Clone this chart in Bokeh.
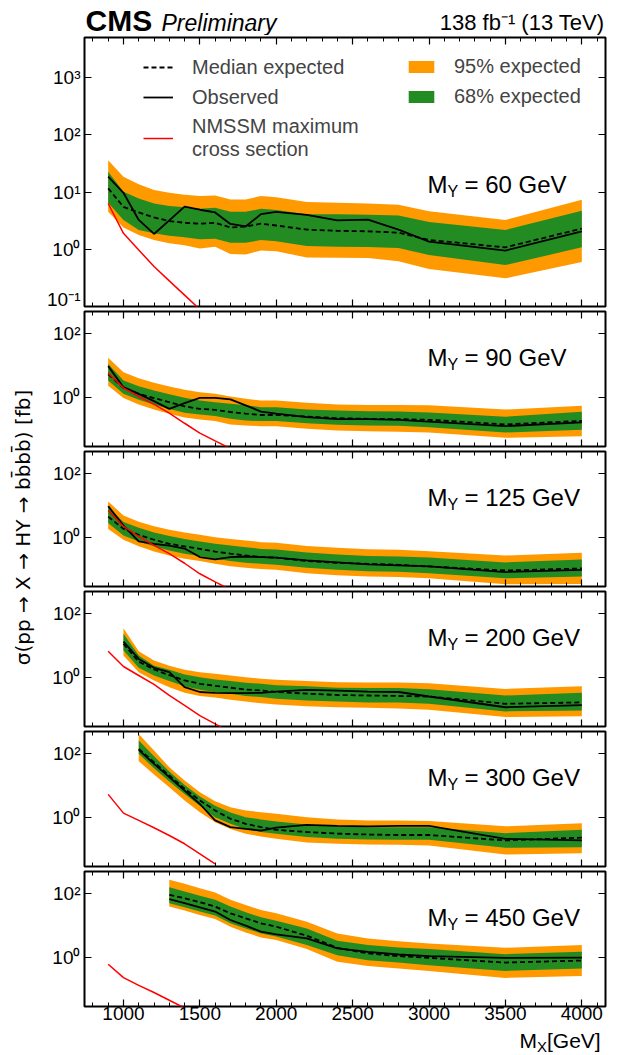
import math
from bokeh.plotting import figure
from bokeh.layouts import column, row
from bokeh.models import (Range1d, FixedTicker, LinearAxis, LogAxis, Label, Legend,
                          LegendItem, CustomJSTickFormatter, ColumnDataSource)
from bokeh.core.properties import value
from bokeh.embed import file_html
from bokeh.resources import INLINE

# ---------------- data ----------------
MX_ALL = [900, 1000, 1100, 1200, 1300, 1400, 1500, 1600, 1700, 1800, 1900, 2000,
          2200, 2400, 2600, 2800, 3000, 3500, 4000]

# M_Y = 60 GeV
mx_60 = MX_ALL
obs_60 = [18.5, 9.7, 3.25, 1.85, 3.2, 5.55, 4.9, 4.4, 2.77, 2.5, 4.1, 4.5, 4.0, 3.2, 3.3, 2.2, 1.36, 0.95, 2.06]
exp_60 = [11.6, 5.5, 4.4, 3.6, 3.1, 2.9, 2.8, 2.9, 2.4, 2.5, 2.8, 2.6, 2.2, 2.1, 2.06, 1.95, 1.45, 1.08, 2.3]
u95_60 = [36, 18.5, 13.6, 10.8, 9.7, 9.0, 8.5, 8.7, 7.4, 7.4, 8.5, 8.1, 6.7, 6.5, 6.3, 6.0, 4.6, 3.25, 7.3]
u68_60 = [22.6, 10.1, 7.7, 6.3, 5.7, 5.4, 5.1, 5.3, 4.5, 4.5, 5.1, 4.85, 4.1, 4.1, 4.0, 3.9, 3.0, 2.17, 4.7]
d68_60 = [6.5, 3.25, 2.17, 1.9, 1.73, 1.62, 1.5, 1.53, 1.3, 1.3, 1.45, 1.38, 1.14, 1.11, 1.1, 1.05, 0.79, 0.53, 1.08]
d95_60 = [4.5, 2.4, 1.78, 1.45, 1.27, 1.17, 1.03, 1.11, 0.83, 0.81, 0.95, 0.92, 0.72, 0.71, 0.70, 0.62, 0.45, 0.31, 0.60]
rx_60 = [900, 1000, 1100, 1200, 1300, 1400, 1500, 1600]
ry_60 = [6.3, 1.9, 0.97, 0.5, 0.28, 0.158, 0.089, 0.05]

# M_Y = 90 GeV
mx_90 = MX_ALL
obs_90 = [9.8, 2.15, 1.33, 0.79, 0.45, 0.68, 1.0, 1.0, 0.89, 0.58, 0.37, 0.32, 0.25, 0.215, 0.215, 0.205, 0.18, 0.13, 0.17]
exp_90 = [5.4, 2.05, 1.33, 0.98, 0.73, 0.54, 0.45, 0.42, 0.36, 0.32, 0.29, 0.29, 0.26, 0.23, 0.22, 0.215, 0.205, 0.147, 0.19]
u95_90 = [17.8, 6.3, 4.1, 2.94, 2.26, 1.78, 1.5, 1.33, 1.1, 0.93, 0.83, 0.83, 0.7, 0.62, 0.6, 0.6, 0.58, 0.43, 0.56]
u68_90 = [11.5, 3.5, 2.3, 1.7, 1.3, 1.0, 0.83, 0.73, 0.65, 0.58, 0.51, 0.51, 0.43, 0.40, 0.38, 0.37, 0.35, 0.255, 0.365]
d68_90 = [3.5, 1.33, 0.87, 0.62, 0.45, 0.34, 0.30, 0.27, 0.22, 0.196, 0.187, 0.187, 0.16, 0.143, 0.137, 0.133, 0.12, 0.082, 0.1]
d95_90 = [2.4, 0.98, 0.62, 0.43, 0.32, 0.24, 0.21, 0.187, 0.147, 0.137, 0.13, 0.13, 0.108, 0.095, 0.09, 0.087, 0.082, 0.056, 0.063]
rx_90 = [900, 1000, 1100, 1200, 1300, 1400, 1500, 1600, 1700]
ry_90 = [5.9, 2.05, 1.1, 0.62, 0.33, 0.16, 0.079, 0.045, 0.026]

# M_Y = 125 GeV
mx_125 = MX_ALL
obs_125 = [9.8, 2.4, 0.77, 0.65, 0.57, 0.46, 0.25, 0.21, 0.25, 0.26, 0.25, 0.24, 0.196, 0.17, 0.147, 0.137, 0.127, 0.085, 0.1]
exp_125 = [4.6, 1.9, 1.24, 0.87, 0.65, 0.54, 0.45, 0.37, 0.32, 0.28, 0.25, 0.24, 0.187, 0.165, 0.154, 0.143, 0.127, 0.095, 0.11]
u95_125 = [13.6, 5.0, 3.2, 2.3, 1.78, 1.47, 1.24, 1.05, 0.91, 0.83, 0.73, 0.7, 0.55, 0.49, 0.44, 0.42, 0.38, 0.28, 0.34]
u68_125 = [9.1, 3.1, 2.05, 1.47, 1.13, 0.91, 0.77, 0.65, 0.57, 0.51, 0.45, 0.43, 0.35, 0.30, 0.27, 0.26, 0.24, 0.17, 0.21]
d68_125 = [2.9, 1.18, 0.77, 0.54, 0.40, 0.32, 0.27, 0.22, 0.187, 0.165, 0.154, 0.143, 0.115, 0.1, 0.09, 0.087, 0.078, 0.054, 0.062]
d95_125 = [1.9, 0.87, 0.54, 0.37, 0.28, 0.22, 0.187, 0.154, 0.13, 0.115, 0.105, 0.1, 0.078, 0.068, 0.062, 0.059, 0.054, 0.035, 0.036]
rx_125 = [900, 1000, 1100, 1200, 1300, 1400, 1500, 1600, 1700]
ry_125 = [7.1, 2.26, 1.1, 0.58, 0.32, 0.16, 0.075, 0.042, 0.024]

# M_Y = 200 GeV
mx_200 = MX_ALL[1:]
obs_200 = [13.6, 3.9, 2.05, 1.5, 0.51, 0.36, 0.34, 0.33, 0.33, 0.34, 0.37, 0.42, 0.40, 0.37, 0.36, 0.26, 0.12, 0.14]
exp_200 = [11.5, 3.2, 1.82, 1.21, 0.83, 0.65, 0.56, 0.49, 0.43, 0.40, 0.36, 0.32, 0.29, 0.28, 0.27, 0.26, 0.154, 0.17]
u95_200 = [35.6, 6.8, 3.5, 2.4, 1.78, 1.5, 1.33, 1.18, 1.05, 0.93, 0.87, 0.79, 0.73, 0.71, 0.71, 0.68, 0.45, 0.54]
u68_200 = [23.7, 5.0, 2.4, 1.78, 1.27, 1.05, 0.89, 0.79, 0.70, 0.65, 0.58, 0.54, 0.49, 0.48, 0.48, 0.44, 0.28, 0.34]
d68_200 = [7.1, 2.05, 1.18, 0.79, 0.54, 0.42, 0.36, 0.32, 0.27, 0.25, 0.22, 0.196, 0.18, 0.17, 0.17, 0.154, 0.089, 0.095]
d95_200 = [5.0, 1.5, 0.83, 0.51, 0.34, 0.27, 0.24, 0.205, 0.18, 0.16, 0.147, 0.13, 0.12, 0.115, 0.11, 0.1, 0.059, 0.063]
rx_200 = [900, 1000, 1100, 1200, 1300, 1400, 1500, 1600, 1700]
ry_200 = [6.8, 2.26, 1.18, 0.62, 0.28, 0.137, 0.066, 0.036, 0.02]

# M_Y = 300 GeV
mx_300 = MX_ALL[2:]
obs_300 = [133, 48.6, 18.7, 7.1, 2.7, 0.83, 0.51, 0.45, 0.40, 0.49, 0.60, 0.56, 0.54, 0.56, 0.56, 0.22, 0.196]
exp_300 = [143, 54.6, 21, 8.1, 3.5, 1.7, 0.93, 0.65, 0.51, 0.42, 0.36, 0.32, 0.30, 0.29, 0.29, 0.196, 0.24]
u95_300 = [420, 127, 38, 14.7, 6.3, 3.3, 2.15, 1.7, 1.5, 1.33, 1.05, 0.89, 0.83, 0.83, 0.79, 0.54, 0.68]
u68_300 = [260, 84, 28, 10.7, 4.6, 2.4, 1.47, 1.05, 0.89, 0.77, 0.62, 0.54, 0.51, 0.51, 0.51, 0.33, 0.42]
d68_300 = [100, 35.6, 13.6, 5.6, 2.4, 1.05, 0.65, 0.45, 0.36, 0.32, 0.25, 0.22, 0.21, 0.205, 0.205, 0.115, 0.12]
d95_300 = [59, 22.6, 9.1, 3.5, 1.5, 0.73, 0.45, 0.32, 0.26, 0.22, 0.17, 0.154, 0.147, 0.143, 0.137, 0.071, 0.078]
rx_300 = [900, 1000, 1100, 1200, 1300, 1400, 1500, 1600]
ry_300 = [5.4, 1.4, 0.83, 0.49, 0.28, 0.154, 0.075, 0.036]

# M_Y = 450 GeV
mx_450 = MX_ALL[4:]
obs_450 = [68, 51, 38, 28, 15.2, 10.1, 6.6, 5.4, 4.05, 1.96, 1.54, 1.27, 1.13, 1.0, 1.02]
exp_450 = [93, 73, 55, 40, 24.7, 17.2, 12, 9.4, 4.9, 2.06, 1.37, 1.13, 1.0, 0.71, 0.82]
u95_450 = [275, 206, 150, 110, 65, 45, 31, 24.7, 13.5, 5.8, 4.05, 3.3, 2.8, 2.06, 2.5]
u68_450 = [161, 118, 88, 65, 40, 26.6, 18.5, 14.5, 8.3, 3.4, 2.5, 2.1, 1.87, 1.3, 1.54]
d68_450 = [51, 38, 28, 21, 12, 8.3, 5.8, 4.6, 2.5, 1.21, 0.84, 0.71, 0.59, 0.39, 0.46]
d95_450 = [40, 30, 22, 16.4, 9.4, 6.2, 4.35, 3.6, 1.87, 0.75, 0.55, 0.46, 0.39, 0.235, 0.27]
rx_450 = [900, 1000, 1100, 1200, 1300, 1400]
ry_450 = [0.63, 0.24, 0.138, 0.082, 0.047, 0.027]

X_MAJOR = [1000, 1500, 2000, 2500, 3000, 3500, 4000]
X_MINOR = list(range(800, 4200, 100))

# ---------------- style ----------------
FONT = "Liberation Sans"
ORANGE = "#FF9900"
GREEN = "#228B22"
LEFT_W = 38
PW = 629 - LEFT_W
MBL, MBR = 46, 24
FW = PW - MBL - MBR  # frame width

sup_fmt = CustomJSTickFormatter(code="""
const e = Math.round(Math.log10(tick));
const m = {'-':'\u207b','0':'\u2070','1':'\u00b9','2':'\u00b2','3':'\u00b3','4':'\u2074',
           '5':'\u2075','6':'\u2076','7':'\u2077','8':'\u2078','9':'\u2079'};
return '10' + String(e).split('').map(c => m[c]).join('');
""")
blank_fmt = CustomJSTickFormatter(code="return '';")


def hide_labels(ax):
    ax.formatter = blank_fmt
    ax.major_label_text_font_size = "1px"
    ax.major_label_standoff = 0


def style_ticks(ax):
    ax.major_tick_in = 7
    ax.major_tick_out = 0
    ax.minor_tick_in = 4
    ax.minor_tick_out = 0
    ax.axis_line_color = None
    ax.major_tick_line_width = 1.2
    ax.minor_tick_line_width = 1.0
    ax.major_label_text_color = "black"


def text_strip(h):
    # strip whose frame is aligned with the panel frames (x from 0 to FW, y from 0 to h)
    f = figure(width=PW, height=h, x_range=Range1d(0, FW), y_range=Range1d(0, h),
               x_axis_location=None, y_axis_location=None, output_backend="svg",
               toolbar_location=None, min_border_left=MBL, min_border_right=MBR,
               min_border_top=0, min_border_bottom=0)
    f.grid.visible = False
    f.outline_line_color = None
    return f


def make_panel(my, mx, obs, exp, u95, u68, d68, d95, rx, ry, yr, yticks, height, top, bottom, last=False):
    p = figure(width=PW, height=height, x_range=Range1d(745, 4155), y_range=Range1d(*yr),
               y_axis_type="log", output_backend="svg", toolbar_location=None,
               min_border_left=MBL, min_border_right=MBR, min_border_top=top, min_border_bottom=bottom)
    p.xgrid.visible = False
    p.ygrid.visible = False
    p.outline_line_color = "black"
    p.outline_line_width = 2

    xt = FixedTicker(ticks=X_MAJOR, minor_ticks=X_MINOR)
    yt = FixedTicker(ticks=yticks, minor_ticks=[])

    bx = p.xaxis[0]
    bx.ticker = xt
    style_ticks(bx)
    if last:
        bx.major_label_text_font_size = "19px"
        bx.major_label_text_font = FONT
        bx.major_label_standoff = 0
    else:
        hide_labels(bx)
    ax_top = LinearAxis(ticker=xt)
    style_ticks(ax_top)
    hide_labels(ax_top)
    p.add_layout(ax_top, "above")

    ly = p.yaxis[0]
    ly.ticker = yt
    ly.formatter = sup_fmt
    style_ticks(ly)
    ly.major_label_text_font_size = "19px"
    ly.major_label_text_font = FONT
    ly.major_label_standoff = 4
    ax_r = LogAxis(ticker=yt)
    style_ticks(ax_r)
    hide_labels(ax_r)
    p.add_layout(ax_r, "right")

    src = ColumnDataSource(dict(x=mx, obs=obs, exp=exp, u95=u95, u68=u68, d68=d68, d95=d95))
    r95 = p.varea(x="x", y1="d95", y2="u95", source=src, fill_color=ORANGE)
    r68 = p.varea(x="x", y1="d68", y2="u68", source=src, fill_color=GREEN)
    rexp = p.line(x="x", y="exp", source=src, line_color="black", line_width=1.8, line_dash="5 3")
    robs = p.line(x="x", y="obs", source=src, line_color="black", line_width=1.8)
    rred = p.line(x=rx, y=ry, line_color="red", line_width=1.5)

    # M_Y label (baseline at y = 10)
    lab_kw = dict(x=2990, y=10, text_font=FONT, text_baseline="middle", text_align="left",
                  text_color="black")
    p.add_layout(Label(text="M", text_font_size="24px", y_offset=8, **lab_kw))
    p.add_layout(Label(text="Y", text_font_size="16px", x_offset=20, y_offset=1, **lab_kw))
    p.add_layout(Label(text="= %d GeV" % my, text_font_size="24px", x_offset=37, y_offset=8, **lab_kw))
    return p, dict(r95=r95, r68=r68, rexp=rexp, robs=robs, rred=rred)


p1, r1 = make_panel(60, mx_60, obs_60, exp_60, u95_60, u68_60, d68_60, d95_60, rx_60, ry_60,
                    (0.1, 5000), [0.1, 1, 10, 100, 1000], 274, 2, 3)
p2, _ = make_panel(90, mx_90, obs_90, exp_90, u95_90, u68_90, d68_90, d95_90, rx_90, ry_90,
                   (0.03, 500), [1, 100], 140, 2, 3)
p3, _ = make_panel(125, mx_125, obs_125, exp_125, u95_125, u68_125, d68_125, d95_125, rx_125, ry_125,
                   (0.03, 500), [1, 100], 140, 2, 3)
p4, _ = make_panel(200, mx_200, obs_200, exp_200, u95_200, u68_200, d68_200, d95_200, rx_200, ry_200,
                   (0.03, 500), [1, 100], 140, 2, 3)
p5, _ = make_panel(300, mx_300, obs_300, exp_300, u95_300, u68_300, d68_300, d95_300, rx_300, ry_300,
                   (0.03, 500), [1, 100], 140, 2, 3)
p6, _ = make_panel(450, mx_450, obs_450, exp_450, u95_450, u68_450, d68_450, d95_450, rx_450, ry_450,
                   (0.03, 500), [1, 100], 159, 2, 22, last=True)

# legends in the top panel
leg_kw = dict(border_line_color=None, background_fill_alpha=0, padding=0, margin=0,
              label_text_font=FONT, label_text_font_size="20px", spacing=6, label_height=24)
leg1 = Legend(items=[LegendItem(label="Median expected", renderers=[r1["rexp"]]),
                     LegendItem(label="Observed", renderers=[r1["robs"]]),
                     LegendItem(label="NMSSM maximum\ncross section", renderers=[r1["rred"]])],
              location=(59, 145), glyph_width=30, glyph_height=24, label_standoff=19, **leg_kw)
leg2 = Legend(items=[LegendItem(label="95% expected", renderers=[r1["r95"]]),
                     LegendItem(label="68% expected", renderers=[r1["r68"]])],
              location=(321, 198), glyph_width=32, glyph_height=15, label_standoff=17, **leg_kw)
p1.add_layout(leg1)
p1.add_layout(leg2)

# header row
hdr = text_strip(35)
hdr.text(x=[1], y=[15.5], text=["CMS"], text_font=value(FONT), text_font_style="bold",
         text_font_size="30px", text_baseline="middle", text_color="black")
hdr.text(x=[77], y=[13], text=["Preliminary"], text_font=value(FONT), text_font_style="italic",
         text_font_size="23px", text_baseline="middle", text_color="black")
hdr.text(x=[520], y=[13], text=["138 fb\u207b\u00b9 (13 TeV)"], text_font=value(FONT),
         text_font_size="22px", text_baseline="middle", text_align="right", text_color="black")

# footer row with x-axis title
ftr = text_strip(27)
ftr.text(x=[435], y=[15], text=["M"], text_font=value(FONT), text_font_size="21px",
         text_baseline="middle", text_color="black")
ftr.text(x=[452.5], y=[9.2], text=["X"], text_font=value(FONT), text_font_size="15px",
         text_baseline="middle", text_color="black")
ftr.text(x=[462.5], y=[15], text=["[GeV]"], text_font=value(FONT), text_font_size="21px",
         text_baseline="middle", text_color="black")

# y-axis title column
ylab = figure(width=LEFT_W, height=1055, x_range=Range1d(0, LEFT_W), y_range=Range1d(0, 1055),
              x_axis_location=None, y_axis_location=None, output_backend="svg",
              toolbar_location=None, min_border=0)
ylab.grid.visible = False
ylab.outline_line_color = None
ylab.text(x=[22], y=[528], text=["\u03c3(pp \u2192 X \u2192 HY \u2192 bb\u0304bb\u0304) [fb]"],
          angle=math.pi / 2, text_align="center", text_baseline="middle",
          text_font=value("DejaVu Sans"), text_font_size="20px", text_color="black")

layout = row(ylab, column(hdr, p1, p2, p3, p4, p5, p6, ftr, spacing=0), spacing=0)
open("out.html", "w").write(file_html(layout, INLINE))
